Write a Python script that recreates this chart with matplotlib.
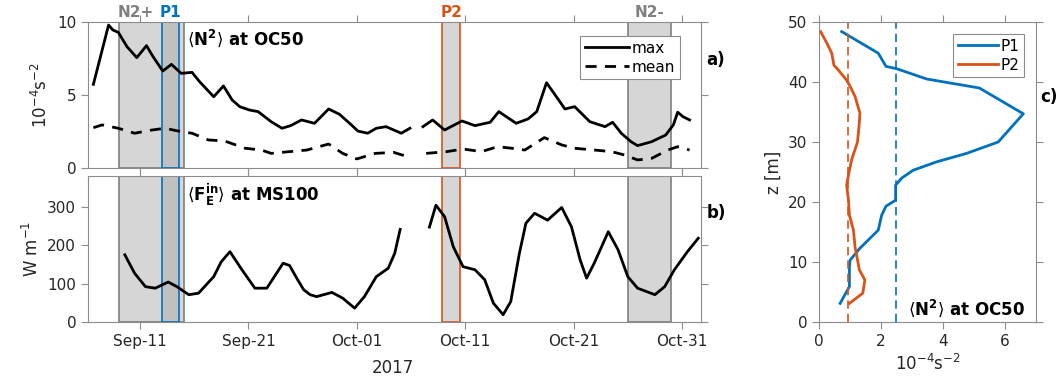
import numpy as np
import matplotlib
matplotlib.use("Agg")
import matplotlib.pyplot as plt
import matplotlib.dates as mdates
from datetime import datetime

# ---------------- data (time in days since 2017-09-01) ----------------
t_max = [5.7, 7.1, 7.5, 8.0, 8.8, 9.7, 10.6, 11.2, 12.1, 12.9, 13.8, 14.8, 15.5, 16.8,
         17.7, 18.5, 19.2, 20.1, 20.9, 22.1, 23.1, 23.9, 24.9, 26.1, 27.4, 28.4, 29.5,
         30.1, 31.0, 31.8, 32.7, 34.1, 34.9, 35.5, 36.1, 37.0, 38.1, 39.7, 40.9, 42.3,
         43.1, 44.7, 45.8, 46.6, 47.5, 48.3, 49.2, 50.1, 51.5, 52.9, 53.6, 54.4, 55.3,
         55.9, 57.2, 58.5, 59.2, 59.6, 60.1, 60.7]
n2_max = [5.73, 9.79, 9.45, 9.29, 8.31, 7.56, 8.38, 7.63, 6.64, 7.10, 6.48, 6.55, 5.91, 4.88,
          5.62, 4.66, 4.20, 3.97, 3.86, 3.17, 2.72, 2.90, 3.29, 3.06, 4.04, 3.68, 2.95,
          2.53, 2.38, 2.72, 2.83, 2.38, 2.72, np.nan, 2.83, 3.29, 2.60, 3.22, 2.90, 3.13,
          3.86, 3.06, 3.36, 3.86, 5.84, 5.00, 4.04, 4.20, 3.17, 2.83, 3.13, 2.38, 1.80,
          1.53, 1.80, 2.26, 2.95, 3.82, 3.51, 3.29]

t_mean = [5.7, 6.5, 8.0, 9.5, 11.1, 12.3, 13.8, 14.8, 16.3, 17.8, 19.7, 21.2, 22.1, 23.8,
          25.4, 27.4, 28.7, 30.0, 31.7, 33.4, 34.7, 35.5, 36.4, 38.3, 39.8, 41.5, 43.0,
          44.3, 45.5, 47.3, 48.9, 50.1, 51.9, 53.5, 54.7, 55.9, 57.2, 58.7, 59.6, 60.7]
n2_mean = [2.76, 2.95, 2.72, 2.38, 2.60, 2.72, 2.49, 2.38, 1.92, 1.85, 1.35, 1.23, 1.00, 1.12,
           1.23, 1.64, 1.00, 0.62, 1.00, 1.07, 0.77, np.nan, 1.00, 1.12, 1.30, 1.12, 1.46,
           1.35, 1.23, 2.08, 1.58, 1.35, 1.23, 1.12, 0.89, 0.55, 0.66, 1.23, 1.46, 1.23]

t_flux = [8.6, 9.5, 10.5, 11.4, 12.6, 13.4, 14.5, 15.4, 16.8, 17.5, 18.3, 19.4, 20.6, 21.7,
          23.2, 23.8, 24.5, 25.1, 25.7, 26.3, 27.7, 28.7, 29.8, 30.7, 31.8, 32.9, 33.5, 34.0,
          35.3, 36.7, 37.3, 38.1, 38.9, 39.8, 40.9, 41.8, 42.6, 43.5, 44.2, 45.0, 45.6, 46.4,
          47.6, 48.9, 49.8, 50.6, 51.2, 51.9, 53.2, 54.1, 55.0, 55.9, 57.5, 58.4, 59.3, 60.5,
          61.5]
flux = [175, 127, 92, 88, 104, 92, 71, 75, 118, 157, 183, 136, 88, 88,
        153, 147, 112, 84, 71, 66, 77, 62, 36, 66, 118, 140, 179, 241,
        np.nan, 247, 304, 274, 196, 144, 136, 110, 49, 19, 53, 179, 257, 283,
        265, 298, 248, 162, 114, 153, 235, 188, 118, 88, 71, 92, 136, 183,
        218]

# event windows (days since 2017-09-01)
win_n2p = (8.1, 14.1)
win_p1 = (12.0, 13.6)
win_p2 = (37.9, 39.5)
win_n2m = (55.0, 59.0)

# profiles
p1_n2 = [0.73, 1.91, 2.16, 2.51, 3.47, 5.17, 6.59, 5.78, 4.76, 3.80, 3.04, 2.67, 2.47,
         2.47, 2.16, 2.02, 1.91, 1.32, 1.00, 0.98, 0.98, 0.68]
p1_z = [48.4, 44.8, 42.6, 42.2, 40.5, 39.0, 34.7, 30.0, 28.1, 26.7, 25.3, 24.0, 22.8,
        20.3, 19.3, 17.8, 15.3, 12.3, 10.3, 9.2, 5.9, 3.1]
p2_n2 = [0.05, 0.25, 0.41, 0.48, 0.62, 0.89, 1.00, 1.16, 1.32, 1.29, 1.24, 1.05, 0.95,
         0.89, 0.95, 0.98, 1.11, 1.16, 1.30, 1.48, 1.41, 0.98]
p2_z = [48.4, 46.5, 44.8, 42.8, 42.0, 40.3, 39.3, 37.6, 34.8, 32.6, 30.0, 27.0, 24.5,
        22.8, 20.3, 17.8, 15.3, 12.6, 8.7, 7.0, 4.8, 3.1]
p1_ref = 2.48
p2_ref = 0.95

# ---------------- style ----------------
blue = '#0072BD'
orange = '#D95319'
spine_c = '#8c8c8c'
txt_c = '#262626'
n2_face = '#d6d6d6'
p_face = (0.65, 0.65, 0.65, 0.45)

plt.rcParams['font.family'] = 'DejaVu Sans'
plt.rcParams['font.size'] = 11
plt.rcParams['mathtext.fontset'] = 'dejavusans'

t0 = mdates.date2num(datetime(2017, 9, 1))
def tt(v):
    return t0 + np.asarray(v, dtype=float)

def style(ax):
    for s in ax.spines.values():
        s.set_color(spine_c)
    ax.tick_params(direction='out', top=True, right=True, length=5, width=0.8,
                   color=spine_c, labelcolor=txt_c, labelsize=11)

def events(ax):
    ax.axvspan(*tt(win_n2p), facecolor=n2_face, edgecolor='#7f7f7f', lw=1.2, zorder=1)
    ax.axvspan(*tt(win_n2m), facecolor=n2_face, edgecolor='#7f7f7f', lw=1.2, zorder=1)
    ax.axvspan(*tt(win_p1), facecolor=p_face, edgecolor=blue, lw=1.2, zorder=2)
    ax.axvspan(*tt(win_p2), facecolor=p_face, edgecolor=orange, lw=1.2, zorder=2)

fig = plt.figure(figsize=(10.56, 3.83), dpi=100)
ax_a = fig.add_axes([0.0833, 0.5614, 0.5805, 0.3812])
ax_b = fig.add_axes([0.0833, 0.1593, 0.5805, 0.3812])
ax_c = fig.add_axes([0.7756, 0.1593, 0.2055, 0.7833])

xlim = (tt(5.2), tt(61.75))
ticks = [tt(d) for d in (10, 20, 30, 40, 50, 60)]

# ---- panel a ----
events(ax_a)
ax_a.plot(tt(t_max), n2_max, color='k', lw=2, label='max', zorder=3)
ax_a.plot(tt(t_mean), n2_mean, color='k', lw=2, ls=(0, (4, 3)), label='mean', zorder=3)
ax_a.set_xlim(xlim)
ax_a.set_ylim(0, 10)
ax_a.set_yticks([0, 5, 10])
ax_a.set_xticks(ticks)
ax_a.set_xticklabels([])
ax_a.set_ylabel(r'10$^{-4}$s$^{-2}$', color=txt_c, fontsize=12)
style(ax_a)
leg = ax_a.legend(loc='upper right', bbox_to_anchor=(0.978, 0.955), fancybox=False,
                  edgecolor=spine_c, framealpha=1, handlelength=2.9, fontsize=11,
                  borderpad=0.3, labelspacing=0.25, handletextpad=0.2)
leg.get_frame().set_linewidth(0.8)
ax_a.text(0.161, 0.89, r'$\langle\mathbf{N^2}\rangle$ at OC50', transform=ax_a.transAxes,
          fontsize=12, fontweight='bold', va='center', color='k')
for lab, w, c in [('N2+', (8.1, 11.1), '#808080'), ('P1', win_p1, blue),
                  ('P2', win_p2, orange), ('N2-', win_n2m, '#808080')]:
    ax_a.text(tt(sum(w) / 2), 10.15, lab, color=c, fontweight='bold', fontsize=11,
              ha='center', va='bottom')
fig.text(0.669, 1 - 60 / 383, 'a)', fontweight='bold', fontsize=12, va='center')

# ---- panel b ----
events(ax_b)
ax_b.plot(tt(t_flux), flux, color='k', lw=2, zorder=3)
ax_b.set_xlim(xlim)
ax_b.set_ylim(0, 380)
ax_b.set_yticks([0, 100, 200, 300])
ax_b.set_xticks(ticks)
ax_b.xaxis.set_major_formatter(mdates.DateFormatter('%b-%d'))
ax_b.set_ylabel(r'W m$^{-1}$', color=txt_c, fontsize=12)
style(ax_b)
ax_b.text(0.161, 0.87, r'$\langle\mathbf{F_E^{in}}\rangle$ at MS100', transform=ax_b.transAxes,
          fontsize=12, fontweight='bold', va='center', color='k')
fig.text(393 / 1056, 1 - 368 / 383, '2017', ha='center', va='center', color=txt_c, fontsize=12)
fig.text(0.669, 1 - 213 / 383, 'b)', fontweight='bold', fontsize=12, va='center')

# ---- panel c ----
ax_c.plot(p1_n2, p1_z, color=blue, lw=2, label='P1')
ax_c.plot(p2_n2, p2_z, color=orange, lw=2, label='P2')
ax_c.axvline(p1_ref, color=blue, lw=1.2, ls=(0, (5, 3)))
ax_c.axvline(p2_ref, color=orange, lw=1.2, ls=(0, (5, 3)))
ax_c.set_xlim(0, 7)
ax_c.set_ylim(0, 50)
ax_c.set_xticks([0, 2, 4, 6])
ax_c.set_yticks([0, 10, 20, 30, 40, 50])
ax_c.set_xlabel(r'10$^{-4}$s$^{-2}$', color=txt_c, fontsize=12)
ax_c.set_ylabel('z [m]', color=txt_c, fontsize=12)
style(ax_c)
leg = ax_c.legend(loc='upper right', bbox_to_anchor=(0.98, 0.985), fancybox=False,
                  edgecolor=spine_c, framealpha=1, handlelength=2.6, fontsize=11,
                  borderpad=0.3, labelspacing=0.25, handletextpad=0.2)
leg.get_frame().set_linewidth(0.8)
ax_c.text(0.41, 0.047, r'$\langle\mathbf{N^2}\rangle$ at OC50', transform=ax_c.transAxes,
          fontsize=12, fontweight='bold', va='center', color='k')
fig.text(1040 / 1056, 1 - 97 / 383, 'c)', fontweight='bold', fontsize=12, va='center')

fig.savefig('out.png', dpi=100)
